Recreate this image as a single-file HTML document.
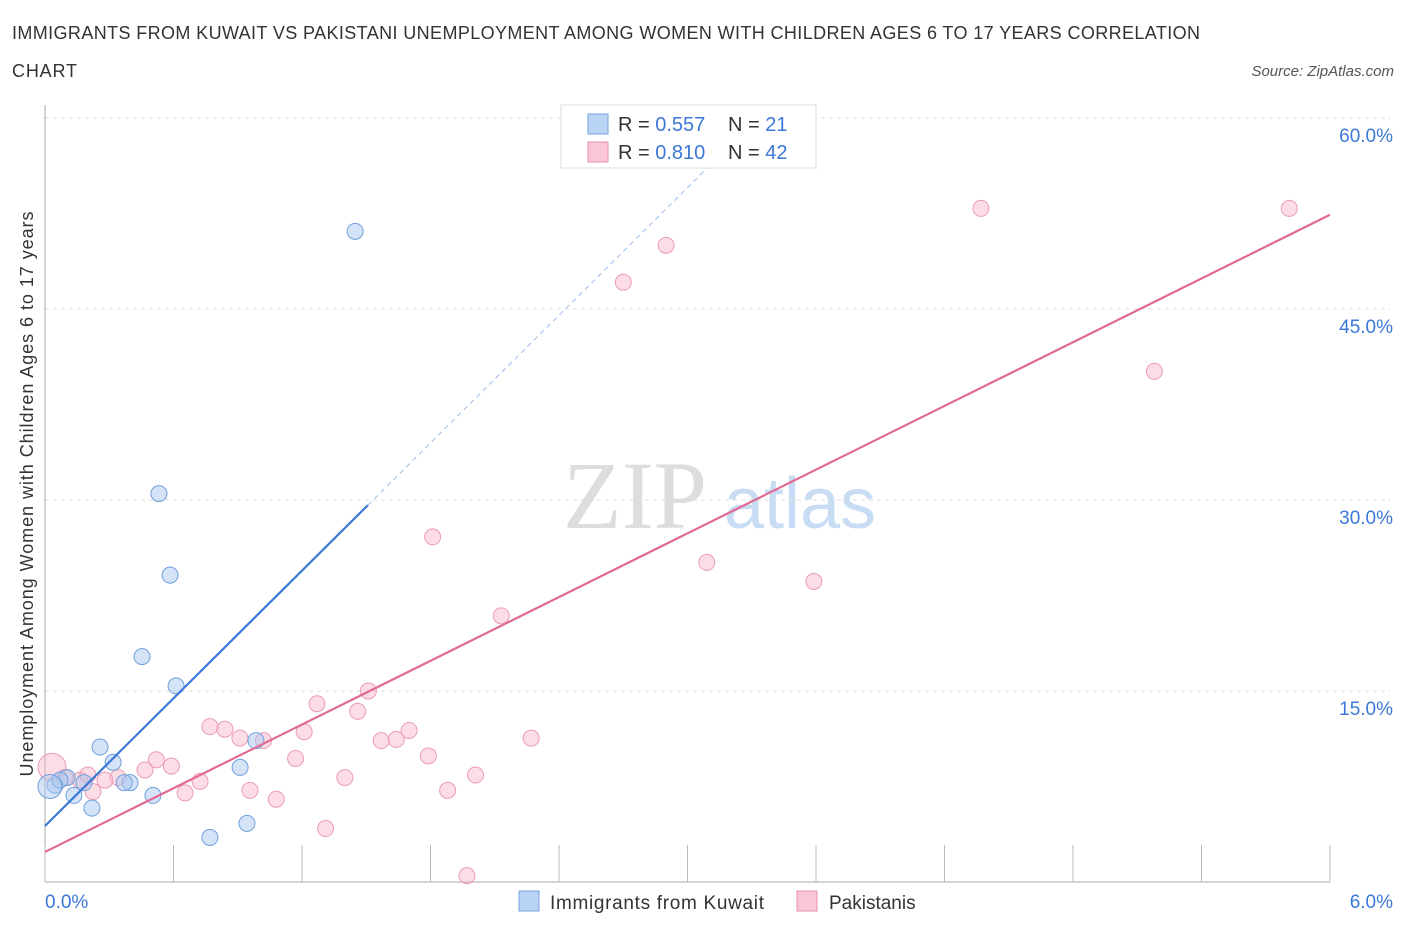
<!DOCTYPE html>
<html><head><meta charset="utf-8"><style>
body{margin:0;background:#fff;font-family:"Liberation Sans",sans-serif;}
</style></head><body>
<svg width="1406" height="930" xmlns="http://www.w3.org/2000/svg">
<text x="12" y="39" font-size="18" fill="#333" textLength="1188">IMMIGRANTS FROM KUWAIT VS PAKISTANI UNEMPLOYMENT AMONG WOMEN WITH CHILDREN AGES 6 TO 17 YEARS CORRELATION</text>
<text x="12" y="77" font-size="18" fill="#333" textLength="65">CHART</text>
<text x="1394" y="76" font-size="15" fill="#555" font-style="italic" text-anchor="end">Source: ZipAtlas.com</text>
<text x="635" y="528" font-size="96" fill="#ddd" font-family="Liberation Serif" text-anchor="middle">ZIP</text>
<text x="800" y="528" font-size="72" fill="#c8dcf3" text-anchor="middle">atlas</text>
<g id="grid"></g>
<g id="marks"></g>
<text x="33" y="494" font-size="18" fill="#333" text-anchor="middle" textLength="565" transform="rotate(-90 33 494)">Unemployment Among Women with Children Ages 6 to 17 years</text>
<g>
<rect x="561" y="105" width="255" height="63" fill="#fff" stroke="#ddd"/>
<rect x="588" y="114" width="20" height="20" fill="#b9d3f5" stroke="#7aa6e0"/>
<text x="618" y="131" font-size="20" fill="#333">R = <tspan fill="#3b78d8">0.557</tspan></text>
<text x="728" y="131" font-size="20" fill="#333">N = <tspan fill="#3b78d8"> 21</tspan></text>
<rect x="588" y="142" width="20" height="20" fill="#f9c6d6" stroke="#e890ab"/>
<text x="618" y="159" font-size="20" fill="#333">R = <tspan fill="#3b78d8">0.810</tspan></text>
<text x="728" y="159" font-size="20" fill="#333">N = <tspan fill="#3b78d8">42</tspan></text>
</g>
<g>
<rect x="519" y="891" width="20" height="20" fill="#b9d3f5" stroke="#7aa6e0"/>
<text x="550" y="909" font-size="19" fill="#333" textLength="214">Immigrants from Kuwait</text>
<rect x="797" y="891" width="20" height="20" fill="#f9c6d6" stroke="#e890ab"/>
<text x="829" y="909" font-size="19" fill="#333">Pakistanis</text>
</g>
</svg>
<script>
const blueX=[1.448,0.532,0.584,0.453,0.612,0.257,0.318,0.985,0.911,0.504,0.397,0.219,0.135,0.103,0.047,0.182,0.770,0.943,0.07,0.023,0.37];
const blueY=[51.1,30.5,24.1,17.7,15.4,10.6,9.4,11.1,9.0,6.8,7.8,5.8,6.8,8.2,7.6,7.8,3.5,4.6,8.0,7.5,7.8];
const pinkX=[5.81,4.37,2.90,2.70,5.18,1.81,3.09,3.59,2.13,1.51,1.27,1.46,0.77,0.84,1.21,1.70,2.27,0.91,1.02,1.57,1.64,1.79,1.17,0.52,0.59,0.467,2.01,1.40,0.724,0.341,0.28,0.957,1.88,0.654,0.224,1.08,0.163,1.31,1.97,0.033,0.093,0.2];
const pinkY=[52.9,52.9,50.0,47.1,40.1,27.1,25.1,23.6,20.9,15.0,14.0,13.4,12.2,12.0,11.8,11.9,11.3,11.3,11.1,11.1,11.2,9.9,9.7,9.6,9.1,8.8,8.4,8.2,7.9,8.2,8.0,7.2,7.2,7.0,7.1,6.5,8.0,4.2,0.5,9.0,8.2,8.4];
const yTicks=[15,30,45,60];
const xTickLabels=["0.0%","6.0%"];
const blueLine=[4.4,29.6,1.508];
const pinkLine=[2.36,52.4];
const NS="http://www.w3.org/2000/svg";
const sx=v=>45+v/6*1285, sy=v=>882-v/15*191;
function mk(tag,a,p){const e=document.createElementNS(NS,tag);for(const k in a)e.setAttribute(k,a[k]);p.appendChild(e);return e;}
const g=document.getElementById('grid'), m=document.getElementById('marks');
yTicks.forEach(t=>{
 const l=mk('line',{x1:45,x2:1390,y1:sy(t),y2:sy(t),stroke:'#ddd','stroke-dasharray':'4,4'},g);
 
 
 const tx=mk('text',{x:1393,y:sy(t)+24,'font-size':19,fill:'#3b78d8','text-anchor':'end'},g);
 tx.textContent=t.toFixed(1)+'%';
 
 
});
const ax=mk('line',{x1:45,x2:45,y1:105,y2:882,stroke:'#aaa'},g);


const bx=mk('line',{x1:45,x2:1330,y1:882,y2:882,stroke:'#aaa'},g);


for(let i=0;i<=10;i++){const t=mk('line',{x1:sx(i*0.6),x2:sx(i*0.6),y1:845,y2:882,stroke:'#bbb'},g);
 
 }
xTickLabels.forEach((s,i)=>{const t=mk('text',{x:i?1393:45,y:908,'font-size':19,fill:'#3b78d8','text-anchor':i?'end':'start'},g);t.textContent=s;
 
 });
pinkX.forEach((x,i)=>{const c=mk('circle',{cx:sx(x),cy:sy(pinkY[i]),r:(i==39?14:8),fill:'rgba(248,180,200,0.45)',stroke:'#eb9cb5','stroke-width':1},m);
 
 });
blueX.forEach((x,i)=>{const c=mk('circle',{cx:sx(x),cy:sy(blueY[i]),r:(i==19?12:8),fill:'rgba(170,200,240,0.5)',stroke:'#6f9fdc','stroke-width':1},m);
 
 });
const slope=(blueLine[1]-blueLine[0])/blueLine[2];
const bl=mk('line',{x1:sx(0),y1:sy(blueLine[0]),x2:sx(blueLine[2]),y2:sy(blueLine[1]),stroke:'#3b78d8','stroke-width':2.2},m);


const xe=3.2;
const bd=mk('line',{x1:sx(blueLine[2]),y1:sy(blueLine[1]),x2:sx(xe),y2:sy(blueLine[0]+slope*xe),stroke:'#9bbde8','stroke-width':1,'stroke-dasharray':'5,4'},m);


const pl=mk('line',{x1:sx(0),y1:sy(pinkLine[0]),x2:sx(6),y2:sy(pinkLine[1]),stroke:'#e06a93','stroke-width':2.2},m);


</script>
</body></html>
